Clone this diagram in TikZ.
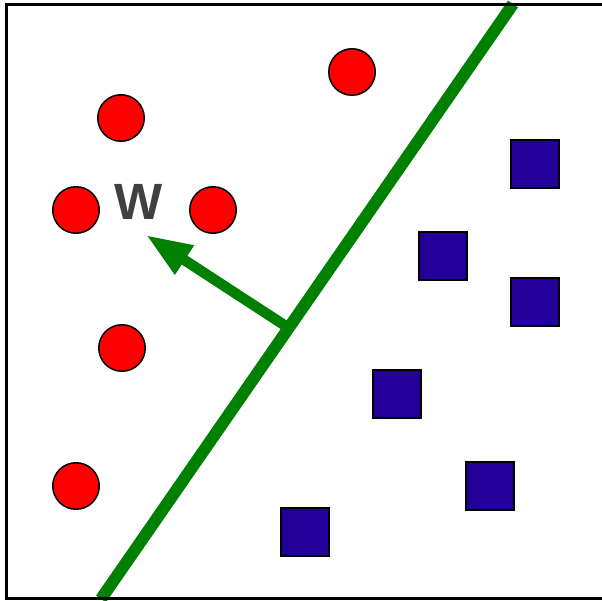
\documentclass[tikz,border=0pt]{standalone}
\usepackage{fontspec}
\setsansfont{Liberation Sans}
\usetikzlibrary{arrows.meta}

\definecolor{ptred}{RGB}{255,0,0}
\definecolor{ptblue}{RGB}{34,0,153}
\definecolor{sepgreen}{RGB}{0,128,0}
\definecolor{wgray}{RGB}{64,64,64}

\begin{document}
\begin{tikzpicture}[
    x=1pt, y=-1pt,
    redpt/.style={draw, circle, minimum size=46.5pt, inner sep=0pt, fill=ptred, line width=1.5pt},
    bluept/.style={draw, rectangle, minimum size=48pt, inner sep=0pt, fill=ptblue, line width=1.5pt},
    sepline/.style={line width=12pt, color=sepgreen},
    normalvec/.style={-{Triangle[length=46pt, width=32pt]}, line width=10.5pt, color=sepgreen}
]
    \useasboundingbox (0,0) rectangle (602,601);

    % class one
    \node[redpt] (r1) at (121,118) {};
    \node[redpt] (r2) at (352,72) {};
    \node[redpt] (r3) at (76,210) {};
    \node[redpt] (r4) at (213,210) {};
    \node[redpt] (r5) at (122,348) {};
    \node[redpt] (r6) at (76,486) {};

    % class two
    \node[bluept] (b1) at (535,164) {};
    \node[bluept] (b2) at (443,256) {};
    \node[bluept] (b3) at (535,302) {};
    \node[bluept] (b4) at (397,394) {};
    \node[bluept] (b5) at (490,486) {};
    \node[bluept] (b6) at (305,532) {};

    % separating line and its normal
    \coordinate (low) at (101,599);
    \coordinate (high) at (513,4);
    \draw[sepline] (low) -- coordinate[pos=0.4555] (foot) (high);
    \coordinate (tip) at (146,235);
    \draw[normalvec] (foot) -- (tip);

    \node[anchor=base, text=wgray, font=\sffamily\bfseries\fontsize{51}{52}\selectfont] (w) at (139,220) {W};

    \draw[line width=3pt] (6.5,5) rectangle (620,598.5);
\end{tikzpicture}
\end{document}
